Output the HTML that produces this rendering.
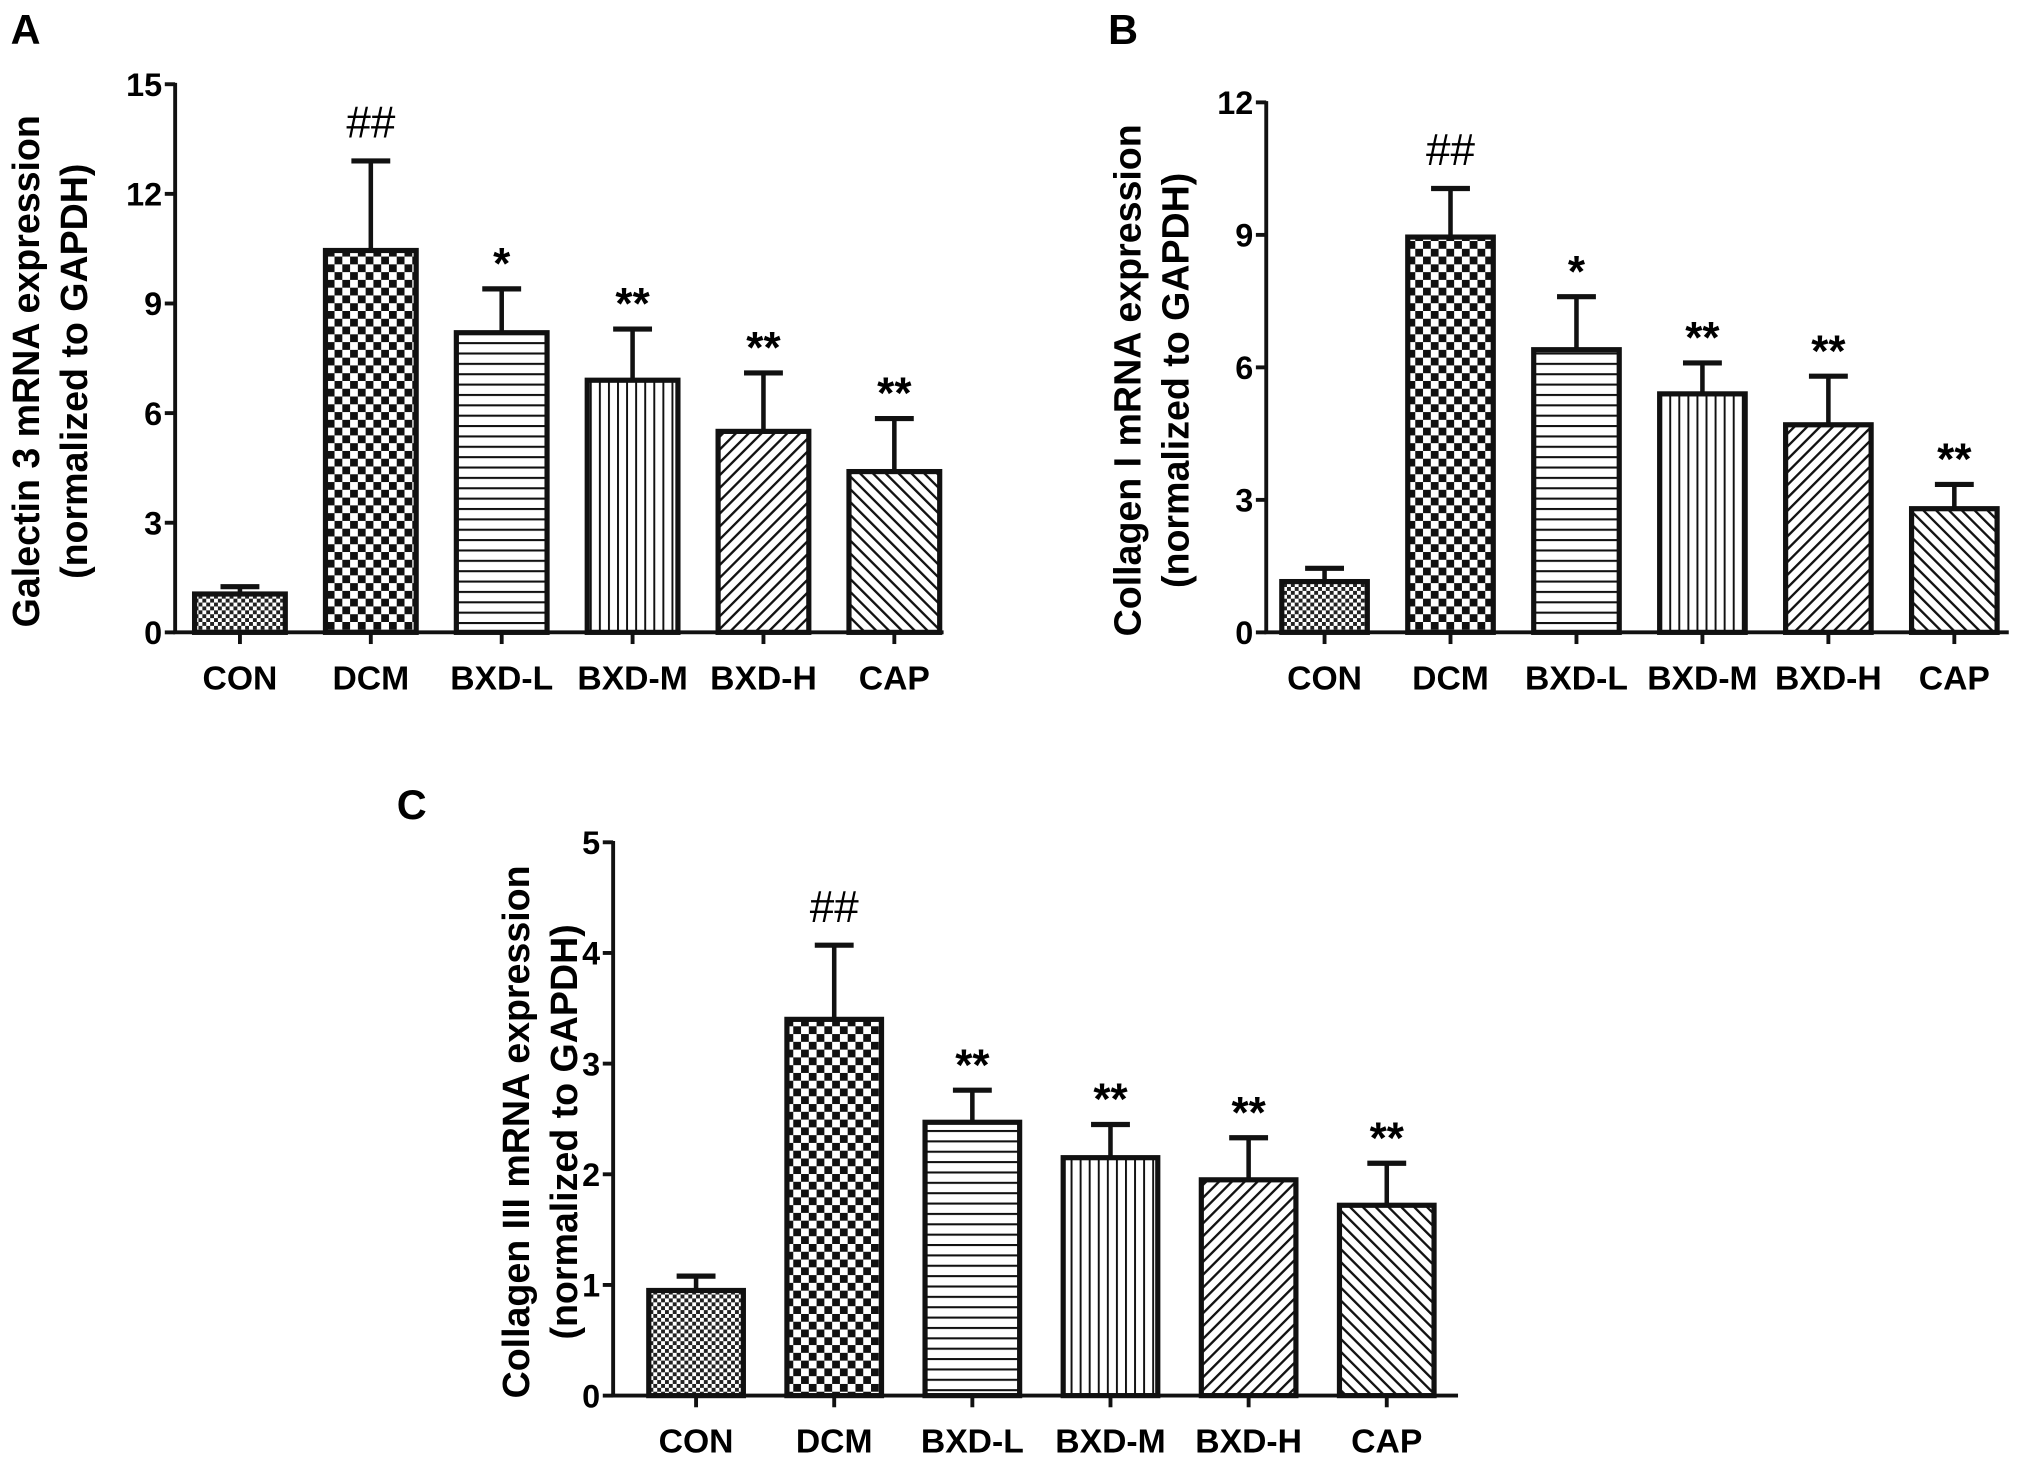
<!DOCTYPE html>
<html><head><meta charset="utf-8"><style>
html,body{margin:0;padding:0;background:#fff;}
svg{display:block;font-family:"Liberation Sans",Arial,sans-serif;}
</style></head><body>
<svg id="fig" width="2031" height="1463" viewBox="0 0 1567 1129" xmlns="http://www.w3.org/2000/svg">
<defs>
<pattern id="p-con" width="6" height="6" patternUnits="userSpaceOnUse"><rect width="6" height="6" fill="#fff"/><rect width="3" height="3" fill="#222"/><rect x="3" y="3" width="3" height="3" fill="#222"/></pattern>
<pattern id="p-dcm" width="12" height="12" patternUnits="userSpaceOnUse"><rect width="12" height="12" fill="#fff"/><rect width="6" height="6" fill="#111"/><rect x="6" y="6" width="6" height="6" fill="#111"/></pattern>
<pattern id="p-l" width="8" height="8" patternUnits="userSpaceOnUse"><rect width="8" height="8" fill="#fff"/><rect y="0" width="8" height="1.6" fill="#111"/></pattern>
<pattern id="p-m" width="7" height="7" patternUnits="userSpaceOnUse"><rect width="7" height="7" fill="#fff"/><rect x="0" width="1.5" height="7" fill="#111"/></pattern>
<pattern id="p-h" width="7" height="7" patternUnits="userSpaceOnUse" patternTransform="rotate(45)"><rect width="7" height="7" fill="#fff"/><rect width="1.8" height="7" fill="#111"/></pattern>
<pattern id="p-cap" width="7" height="7" patternUnits="userSpaceOnUse" patternTransform="rotate(-45)"><rect width="7" height="7" fill="#fff"/><rect width="1.8" height="7" fill="#111"/></pattern>
</defs>
</svg>
<script>
const categories = ["CON","DCM","BXD-L","BXD-M","BXD-H","CAP"];
const galectinMeans = [1.05,10.45,8.2,6.9,5.5,4.4];
const galectinErr = [1.25,12.9,9.4,8.3,7.1,5.85];
const galectinTicks = [0,3,6,9,12,15];
const galectinSig = ["","##","*","**","**","**"];
const col1Means = [1.15,8.95,6.4,5.4,4.7,2.8];
const col1Err = [1.45,10.05,7.6,6.1,5.8,3.35];
const col1Ticks = [0,3,6,9,12];
const col1Sig = ["","##","*","**","**","**"];
const col3Means = [0.95,3.4,2.47,2.15,1.95,1.72];
const col3Err = [1.08,4.07,2.76,2.45,2.33,2.1];
const col3Ticks = [0,1,2,3,4,5];
const col3Sig = ["","##","**","**","**","**"];

const patterns = ["p-con","p-dcm","p-l","p-m","p-h","p-cap"];
const NS = "http://www.w3.org/2000/svg";
const svg = document.getElementById('fig');
function mk(tag, attrs, parent, text){
  const e = document.createElementNS(NS, tag);
  for (const k in attrs) e.setAttribute(k, attrs[k]);
  if (text !== undefined) e.textContent = text;
  (parent||svg).appendChild(e);
  return e;
}
function panel(cfg, means, errs, ticks, sig){
  const g = mk('g', {});
  
  
  const ymax = ticks[ticks.length-1];
  const y = v => cfg.y0 - (v/ymax)*(cfg.y0 - cfg.yTop);
  const xc = i => cfg.first + cfg.step*i;
  const L = mk('text', {x: cfg.lx, y: cfg.ly, 'font-size': 32, 'font-weight': 'bold'}, g, cfg.letter);
  
  
  const tx = cfg.titleX;
  const cy = (cfg.y0 + cfg.yTop)/2 + 10;
  const t1 = mk('text', {x: tx, y: cy, 'font-size': 29, 'font-weight': 'bold', 'text-anchor': 'middle', transform: `rotate(-90 ${tx} ${cy})`}, g, cfg.title);
  
  
  const t2 = mk('text', {x: tx+37, y: cy, 'font-size': 29, 'font-weight': 'bold', 'text-anchor': 'middle', transform: `rotate(-90 ${tx+37} ${cy})`}, g, '(normalized to GAPDH)');
  
  
  const ya = mk('line', {x1: cfg.x0, y1: y(ymax)-1, x2: cfg.x0, y2: cfg.y0, stroke: '#111', 'stroke-width': 3}, g);
  
  
  ticks.forEach(t => {
    const tk = mk('line', {x1: cfg.x0-8, y1: y(t), x2: cfg.x0, y2: y(t), stroke: '#111', 'stroke-width': 3}, g);
    
    
    const tl = mk('text', {x: cfg.x0-10, y: y(t)+9, 'font-size': 25, 'font-weight': 'bold', 'text-anchor': 'end'}, g, String(t));
    
    
  });
  categories.forEach((c, i) => {
    const x = xc(i);
    const top = y(means[i]);
    const et = y(errs[i]);
    const eb = mk('line', {x1: x, y1: et, x2: x, y2: top, stroke: '#111', 'stroke-width': 3.5}, g);
    
    
    const cap = mk('line', {x1: x-15, y1: et, x2: x+15, y2: et, stroke: '#111', 'stroke-width': 4}, g);
    
    
    const b = mk('rect', {x: x-cfg.bw/2, y: top, width: cfg.bw, height: cfg.y0-top, fill: `url(#${patterns[i]})`, stroke: '#111', 'stroke-width': 4}, g);
    
    
    const xt = mk('line', {x1: x, y1: cfg.y0, x2: x, y2: cfg.y0+9, stroke: '#111', 'stroke-width': 3}, g);
    
    
    const xl = mk('text', {x: x, y: cfg.y0+44, 'font-size': 26, 'font-weight': 'bold', 'text-anchor': 'middle'}, g, c);
    
    
    if (sig[i]) {
      const isHash = sig[i][0] === '#';
      const s = mk('text', {x: x, y: isHash ? et - 18 : et - 8, 'font-size': 34, 'font-weight': isHash ? 'normal' : 'bold', 'text-anchor': 'middle'}, g, sig[i]);
      
      
    }
  });
  const xa = mk('line', {x1: cfg.x0-1.5, y1: cfg.y0, x2: cfg.xEnd, y2: cfg.y0, stroke: '#111', 'stroke-width': 3}, g);
  
  
}
panel({id:'galectin', letter:'A', lx:8, ly:34, x0:135, xEnd:728, y0:488, yTop:65, bw:70, first:185, step:101, titleX:30, title:'Galectin 3 mRNA expression'}, galectinMeans, galectinErr, galectinTicks, galectinSig);
panel({id:'collagen-i', letter:'B', lx:855, ly:34, x0:977, xEnd:1550, y0:488, yTop:79, bw:66, first:1022, step:97.2, titleX:880, title:'Collagen I mRNA expression'}, col1Means, col1Err, col1Ticks, col1Sig);
panel({id:'collagen-iii', letter:'C', lx:306, ly:632, x0:473, xEnd:1125, y0:1077, yTop:650, bw:73, first:537, step:106.6, titleX:408, title:'Collagen III mRNA expression'}, col3Means, col3Err, col3Ticks, col3Sig);
</script>
</body></html>
